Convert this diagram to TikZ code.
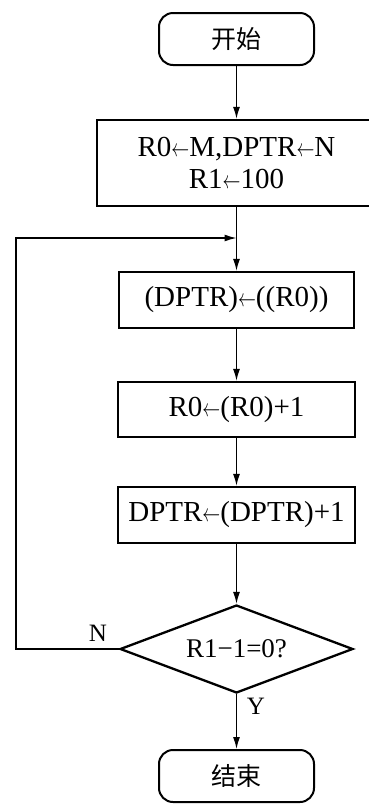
\documentclass[tikz,border=0pt]{standalone}
\usepackage{fontspec}
\setmainfont{Liberation Serif}
\newfontfamily\cjk{Noto Sans CJK SC}
\usetikzlibrary{arrows.meta,shapes.geometric}
% narrow assignment arrow
\newcommand\asg{\scalebox{0.72}[1]{$\leftarrow$}}
\begin{document}
\begin{tikzpicture}[x=1pt,y=-1pt,
  proc/.style={draw, line width=2.3pt, rectangle, inner sep=0pt, align=center,
    font=\fontsize{29}{32}\selectfont},
  term/.style={draw, line width=2pt, rounded corners=14pt, inner sep=0pt,
    minimum width=155pt, minimum height=52pt, font=\cjk\fontsize{25}{30}\selectfont},
  test/.style={draw, line width=2.3pt, diamond, aspect=2.65, inner sep=0pt,
    minimum width=233pt, minimum height=88pt, font=\fontsize{27}{30}\selectfont},
  conn/.style={line width=1.3pt, -{Latex[length=12pt,width=7pt]}},
  lbl/.style={font=\fontsize{25}{28}\selectfont, inner sep=0pt}
]
\useasboundingbox (0,0) rectangle (369,804);
\clip (0,0) rectangle (369,804);

% flowchart blocks
\node[term] (start) at (236.5,39) {开始};
\node[proc, minimum width=279pt, minimum height=86pt] (init) at (236.5,163)
  {R0\asg M,DPTR\asg N\\R1\asg 100};
\node[proc, minimum width=235pt, minimum height=56pt] (mov) at (236.5,300) {(DPTR)\asg((R0))};
\node[proc, minimum width=237pt, minimum height=55pt] (incr) at (236.5,409.5) {R0\asg(R0)+1};
\node[proc, minimum width=237pt, minimum height=56pt] (incd) at (236.5,515) {DPTR\asg(DPTR)+1};
\node[test] (dec) at (236.5,649) {R1−1=0?};
\node[term] (stop) at (236.5,776) {结束};

% loop return points
\coordinate (merge) at (236.5,238);
\coordinate (back) at (16,238);

% connectors
\draw[conn] (start) -- (init);
\draw[conn] (init) -- (mov);
\draw[conn] (mov) -- (incr);
\draw[conn] (incr) -- (incd);
\draw[conn] (incd) -- (dec);
\draw[conn] (dec) -- (stop);
\draw[conn] (dec.west) -| (back) -- (merge);

% branch labels
\node[lbl] (lN) at (98,633) {N};
\node[lbl] (lY) at (256,706) {Y};
\end{tikzpicture}
\end{document}
